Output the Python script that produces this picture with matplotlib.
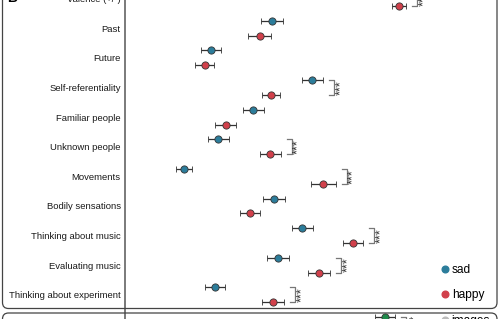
import numpy as np
import matplotlib.pyplot as plt
from matplotlib.patches import FancyBboxPatch
from matplotlib.lines import Line2D

plt.rcParams['font.family'] = ['Liberation Sans', 'DejaVu Sans']

# data (arbitrary units)
categories = ['Valence (+/-)', 'Past', 'Future', 'Self-referentiality', 'Familiar people',
              'Unknown people', 'Movements', 'Bodily sensations', 'Thinking about music',
              'Evaluating music', 'Thinking about experiment']
sad_mean = [68.0, 39.5, 23.1, 50.4, 34.5, 25.1, 15.8, 40.0, 47.7, 41.2, 24.2]
sad_err = [2.5, 3.0, 2.6, 2.9, 2.8, 2.8, 2.1, 2.9, 2.8, 2.9, 2.6]
happy_mean = [73.7, 36.2, 21.4, 39.3, 27.1, 39.1, 53.3, 33.6, 61.4, 52.2, 39.8]
happy_err = [1.9, 3.1, 2.6, 2.5, 2.8, 2.8, 3.3, 2.7, 2.7, 3.0, 3.0]
signif = ['***', '', '', '***', '', '***', '***', '', '***', '***', '***']

images_mean = [69.9]
images_err = [2.7]
images_signif = ['*']

sad_color = '#2c7d9b'
happy_color = '#d1404b'
images_color = '#1f8a4a'

W, H = 500, 319
fig = plt.figure(figsize=(W / 100, H / 100), dpi=100)

def px_axes(x0, x1, ytop, ybot):
    return fig.add_axes([x0 / W, 1 - ybot / H, (x1 - x0) / W, (ybot - ytop) / H])

# main panel
ax = px_axes(125, 497, -16.1, 309.5)
ax.patch.set_alpha(0)
rows = np.arange(len(categories))
off = 0.25
ax.errorbar(sad_mean, rows - off, xerr=sad_err, fmt='o', color=sad_color, ms=5.2,
            mec='#333333', mew=0.6, ecolor='#333333', elinewidth=0.9, capsize=2, capthick=0.9)
ax.errorbar(happy_mean, rows + off, xerr=happy_err, fmt='o', color=happy_color, ms=5.2,
            mec='#333333', mew=0.6, ecolor='#333333', elinewidth=0.9, capsize=2, capthick=0.9)

# significance brackets
for i, s in enumerate(signif):
    if not s:
        continue
    xb = max(sad_mean[i] + sad_err[i], happy_mean[i] + happy_err[i]) + 1.6
    ax.plot([xb, xb + 1.35, xb + 1.35, xb], [i - off, i - off, i + off, i + off],
            color='#777777', lw=0.9)
    ax.text(xb + 3.1, i, s, rotation=90, ha='center', va='center', fontsize=9,
            color='#333333')

ax.set_xlim(0, 100)
ax.set_ylim(len(categories) - 0.5, -0.5)
ax.set_yticks(rows)
ax.set_yticklabels(categories, fontsize=6.8, color='#1a1a1a')
ax.tick_params(axis='y', length=0, pad=3)
ax.set_xticks([])
for sp in ['top', 'right', 'bottom']:
    ax.spines[sp].set_visible(False)
ax.spines['left'].set_color('#7a7a7a')
ax.spines['left'].set_linewidth(1.4)

handles = [Line2D([], [], marker='o', ls='', color=sad_color, ms=4.8),
           Line2D([], [], marker='o', ls='', color=happy_color, ms=4.8)]
fig.legend(handles, ['sad', 'happy'], loc='upper left', bbox_to_anchor=(441 / W, 1 - 264 / H),
           frameon=False, fontsize=8.6, handlelength=0.6, handletextpad=0.3,
           labelspacing=1.1, borderpad=0, borderaxespad=0)

# next panel (cut off at the bottom)
ax2 = px_axes(125, 497, 302.3, 361.5)
ax2.patch.set_alpha(0)
ax2.errorbar(images_mean, [0], xerr=images_err, fmt='o', color=images_color, ms=5.2,
             mec='#333333', mew=0.6, ecolor='#333333', elinewidth=0.9, capsize=2, capthick=0.9)
for i, s in enumerate(images_signif):
    xb = images_mean[i] + images_err[i] + 1.6
    ax2.plot([xb, xb + 1.35, xb + 1.35], [i, i, i + 0.5], color='#777777', lw=0.9)
    ax2.text(xb + 2.6, i + 0.12, s, ha='center', va='center', fontsize=8, color='#333333')
ax2.set_xlim(0, 100)
ax2.set_ylim(1.5, -0.5)
ax2.set_xticks([])
ax2.set_yticks([])
for sp in ['top', 'right', 'bottom']:
    ax2.spines[sp].set_visible(False)
ax2.spines['left'].set_color('#7a7a7a')
ax2.spines['left'].set_linewidth(1.4)
fig.legend([Line2D([], [], marker='o', ls='', color='#bbbbbb', ms=4.8)], ['images'],
           loc='upper left', bbox_to_anchor=(441 / W, 1 - 315 / H), frameon=False,
           fontsize=8.6, handlelength=0.6, handletextpad=0.3, borderpad=0, borderaxespad=0)

# rounded panel frames
box1 = FancyBboxPatch((0.025, 0.105), 4.945, 3.5, boxstyle='round,pad=0,rounding_size=0.06',
                      transform=fig.dpi_scale_trans, fill=False, ec='#444444', lw=0.9)
box2 = FancyBboxPatch((0.025, -1.0), 4.945, 1.06, boxstyle='round,pad=0,rounding_size=0.06',
                      transform=fig.dpi_scale_trans, fill=False, ec='#444444', lw=0.9)
fig.add_artist(box1)
fig.add_artist(box2)

fig.text(12 / W, 1 + 2 / H, 'B', fontsize=10, fontweight='bold', ha='center', va='center')

fig.savefig('out.png', dpi=100)
